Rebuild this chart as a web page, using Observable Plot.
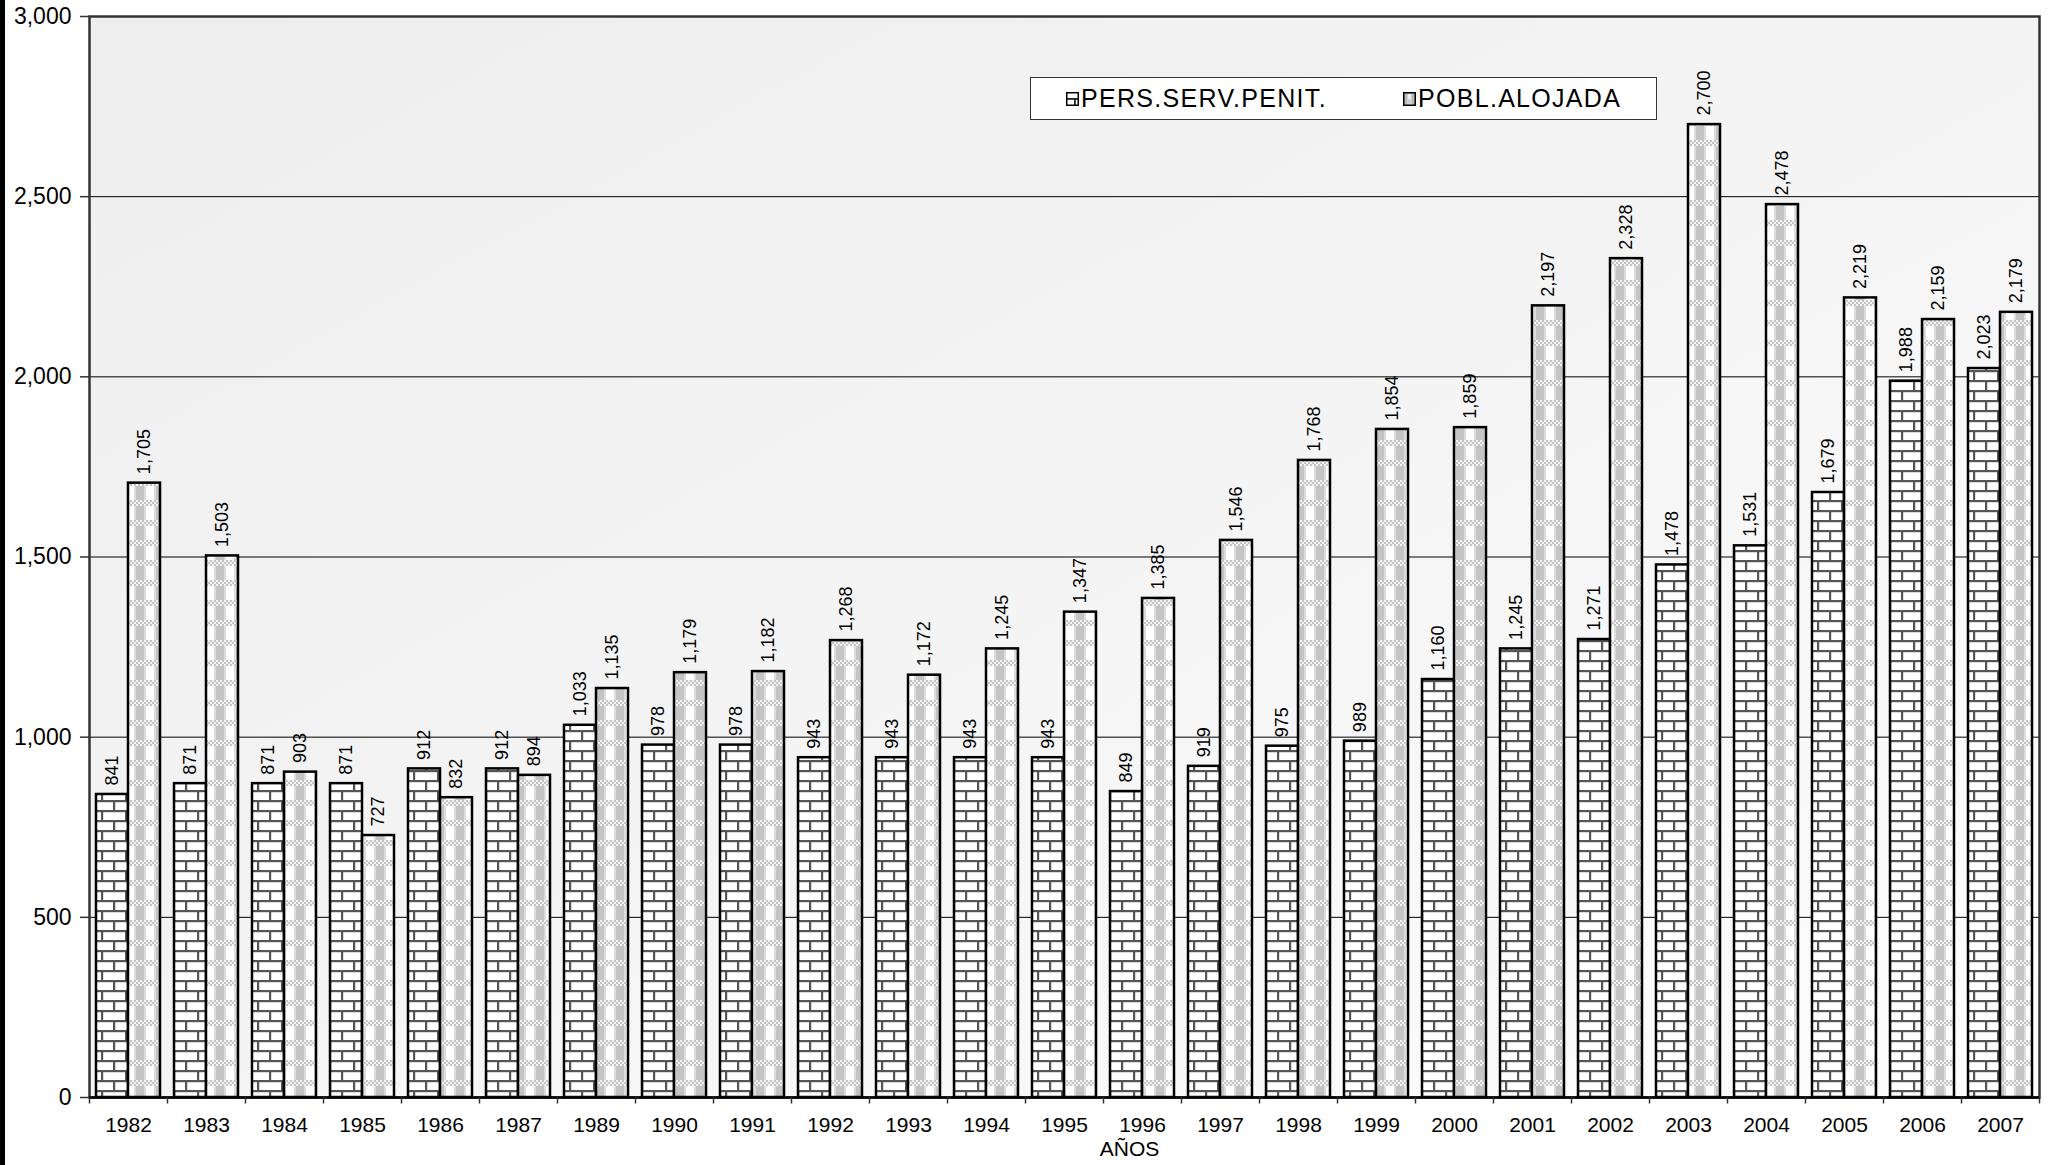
<!DOCTYPE html>
<html>
<head>
<meta charset="utf-8">
<script src="https://cdn.jsdelivr.net/npm/d3@7"></script>
<script src="https://cdn.jsdelivr.net/npm/@observablehq/plot@0.6"></script>
<style>
  html, body { margin: 0; padding: 0; background: #fff; }
  body { width: 2049px; height: 1165px; position: relative; overflow: hidden; font-family: "Liberation Sans", Arial, sans-serif; }
  #stripe { position: absolute; left: 0; top: 0; width: 5px; height: 1165px; background: #000; }
  #legend { position: absolute; left: 1030px; top: 77px; width: 625px; height: 41px; border: 1.5px solid #333; background: #fff; font-size: 25px; letter-spacing: 1.3px; color: #000; }
  #legend .item { position: absolute; top: 0; height: 41px; display: flex; align-items: center; }
  #legend svg { margin-right: 2px; }
</style>
</head>
<body>
<div id="chart"></div>
<div id="stripe"></div>
<div id="legend">
  <div class="item" style="left:35px"><svg width="13" height="14"><rect x="0.75" y="0.75" width="11.5" height="12.5" fill="url(#brickS)" stroke="#000" stroke-width="1.5"/></svg><span id="l1"></span></div>
  <div class="item" style="left:372px"><svg width="13" height="14"><rect x="0.75" y="0.75" width="11.5" height="12.5" fill="url(#checkS)" stroke="#000" stroke-width="1.5"/></svg><span id="l2"></span></div>
</div>
<script>
const years = ["1982","1983","1984","1985","1986","1987","1989","1990","1991","1992","1993","1994","1995","1996","1997","1998","1999","2000","2001","2002","2003","2004","2005","2006","2007"];
const persServPenit = [841,871,871,871,912,912,1033,978,978,943,943,943,943,849,919,975,989,1160,1245,1271,1478,1531,1679,1988,2023];
const poblAlojada = [1705,1503,903,727,832,894,1135,1179,1182,1268,1172,1245,1347,1385,1546,1768,1854,1859,2197,2328,2700,2478,2219,2159,2179];
const yTicks = [0,500,1000,1500,2000,2500,3000];
const gridTicks = [500,1000,1500,2000,2500];
const seriesNames = ["PERS.SERV.PENIT.", "POBL.ALOJADA"];
const xLabel = "AÑOS";

document.getElementById("l1").textContent = seriesNames[0];
document.getElementById("l2").textContent = seriesNames[1];

const data = years.map((year, i) => ({year, pers: persServPenit[i], pobl: poblAlojada[i]}));
const fmt = d3.format(",");

const chart = Plot.plot({
  width: 2049,
  height: 1165,
  marginLeft: 89,
  marginRight: 10,
  marginTop: 16,
  marginBottom: 68,
  style: {fontFamily: "'Liberation Sans', Arial, sans-serif", background: "transparent", color: "#000", overflow: "visible"},
  x: {domain: years, paddingInner: 0.18, paddingOuter: 0.09, axis: null},
  y: {domain: [0, 3000], axis: null},
  marks: [
    Plot.frame({fill: "url(#bg)", stroke: "none"}),
    Plot.ruleY(gridTicks, {stroke: "#000", strokeWidth: 1}),
    Plot.barY(data, {x: "year", y: "pers", fill: "url(#brick)", stroke: "#000", strokeWidth: 2.5, insetRight: 32}),
    Plot.barY(data, {x: "year", y: "pobl", fill: "url(#check)", stroke: "#000", strokeWidth: 2.5, insetLeft: 32}),
    Plot.text(data, {x: "year", y: "pers", text: d => fmt(d.pers), rotate: -90, textAnchor: "start", dx: -16, dy: -9, fontSize: 18, fill: "#000"}),
    Plot.text(data, {x: "year", y: "pobl", text: d => fmt(d.pobl), rotate: -90, textAnchor: "start", dx: 16, dy: -9, fontSize: 18, fill: "#000"}),
    Plot.frame({stroke: "#333", strokeWidth: 2.5}),
    Plot.ruleY([0], {stroke: "#000", strokeWidth: 2.5}),
    Plot.axisY({ticks: yTicks, tickSize: 9, tickPadding: 9, tickFormat: fmt, fontSize: 23, label: null, stroke: "#333", strokeWidth: 1.5}),
    Plot.ruleX(years, {x: d => d, y1: 0, y2: -18, dx: -39, stroke: "#333", strokeWidth: 1.5}),
    Plot.ruleX([years[years.length - 1]], {x: d => d, y1: 0, y2: -18, dx: 39, stroke: "#333", strokeWidth: 1.5}),
    Plot.axisX({tickSize: 0, tickPadding: 20, fontSize: 21, label: null}),
    Plot.text([xLabel], {frameAnchor: "bottom", dy: 58, dx: 65, fontSize: 21, fill: "#000"})
  ]
});

const ns = "http://www.w3.org/2000/svg";
const defs = document.createElementNS(ns, "defs");
const brick = (id) => `
  <pattern id="${id}" patternUnits="userSpaceOnUse" width="24" height="20">
    <rect width="24" height="20" fill="#fff"/>
    <rect x="0" y="0" width="24" height="2.2" fill="#555"/>
    <rect x="0" y="10" width="24" height="2.2" fill="#555"/>
    <rect x="17" y="0" width="2.2" height="10" fill="#555"/>
    <rect x="5" y="10" width="2.2" height="10" fill="#555"/>
  </pattern>`;
const check = (id) => `
  <pattern id="${id}" patternUnits="userSpaceOnUse" width="20" height="20">
    <rect width="20" height="20" fill="#c4c4c4"/>
    <pattern id="${id}dots" patternUnits="userSpaceOnUse" width="4" height="4">
      <rect width="4" height="4" fill="#c4c4c4"/>
      <rect width="2" height="2" fill="#f2f2f2"/>
      <rect x="2" y="2" width="2" height="2" fill="#f2f2f2"/>
    </pattern>
    <rect x="0" y="0" width="20" height="6" fill="url(#${id}dots)"/>
    <rect x="6" y="6" width="8" height="14" fill="#ffffff"/>
    <rect x="4" y="6" width="2" height="14" fill="#dcdcdc"/>
    <rect x="14" y="6" width="2" height="14" fill="#dcdcdc"/>
  </pattern>`;
defs.innerHTML = `
  <linearGradient id="bg" x1="0" y1="0" x2="1" y2="1">
    <stop offset="0" stop-color="#eeeeee"/>
    <stop offset="0.5" stop-color="#f4f4f4"/>
    <stop offset="1" stop-color="#fdfdfd"/>
  </linearGradient>
  ${brick("brick")}${check("check")}
  <pattern id="brickS" patternUnits="userSpaceOnUse" width="13" height="14">
    <rect width="13" height="14" fill="#fff"/>
    <rect x="0" y="6" width="13" height="1.8" fill="#222"/>
    <rect x="8" y="7" width="1.8" height="7" fill="#222"/>
  </pattern>
  <pattern id="checkS" patternUnits="userSpaceOnUse" width="13" height="14">
    <rect width="13" height="14" fill="#b8b8b8"/>
    <rect x="4" y="2" width="5" height="12" fill="#d0d0d0"/>
    <rect x="5" y="2" width="3" height="5" fill="#f0f0f0"/>
  </pattern>`;
chart.prepend(defs);
document.getElementById("chart").appendChild(chart);
</script>
</body>
</html>
